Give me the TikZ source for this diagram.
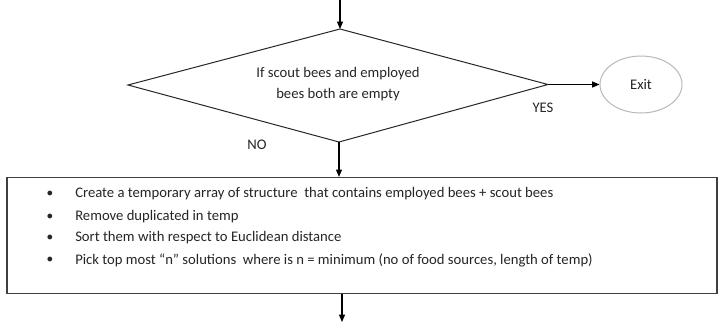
\documentclass[tikz,border=0pt]{standalone}
\usepackage{fontspec}
\setmainfont{Carlito}
\usetikzlibrary{shapes.geometric,arrows.meta}
\begin{document}
\begin{tikzpicture}[x=0.75pt,y=-0.75pt,
  every node/.style={font=\fontsize{11}{16}\selectfont, text=black!85},
  conn/.style={draw=black, line width=0.8pt, -{Triangle[length=5.5pt,width=4.5pt]}},
  dline/.style={draw=black!85, line width=0.75pt},
  terminal/.style={ellipse, draw=black!28, line width=0.75pt, minimum width=82*0.75pt, minimum height=57*0.75pt, inner sep=0pt},
  procbox/.style={draw=black!75, line width=1pt, fill=white},
  lbl/.style={inner sep=0pt},
  bullet/.style={inner sep=0pt, font=\fontsize{9}{9}\selectfont}
]
\useasboundingbox (0,0) rectangle (719,326);
\coordinate (start) at (340,0);
\coordinate (dN) at (340,29);
\coordinate (dW) at (128,85);
\coordinate (dE) at (548,84.5);
\coordinate (dS) at (339,142);
\draw[dline] (dN) -- (dE) -- (dS) -- (dW) -- cycle;
\node[align=center, inner sep=0pt] (dec) at (338,84) {If scout bees and employed\\bees both are empty};
\node[terminal] (exit) at (641,84.5) {Exit};
\node[procbox, minimum width=710*0.75pt, minimum height=116*0.75pt, inner sep=0pt] (box) at (362,235.5) {};
\coordinate (endpt) at (342,322);
\draw[conn] (start) -- (dN);
\draw[conn] (dE) -- (exit.west);
\draw[conn] (dS) -- (dS |- box.north);
\draw[conn] (box.south -| endpt) -- (endpt);
\node[lbl] (yes) at (543,108) {YES};
\node[lbl] (no) at (257,145) {NO};
\node[bullet] (b1) at (50,194) {$\bullet$};
\node[bullet] (b2) at (50,216.5) {$\bullet$};
\node[bullet] (b3) at (50,238) {$\bullet$};
\node[bullet] (b4) at (50,260) {$\bullet$};
\node[lbl, anchor=west] (t1) at (75,194) {Create a temporary array of structure \ that contains employed bees + scout bees};
\node[lbl, anchor=west] (t2) at (75,216.5) {Remove duplicated in temp};
\node[lbl, anchor=west] (t3) at (75,238) {Sort them with respect to Euclidean distance};
\node[lbl, anchor=west] (t4) at (75,260) {Pick top most “n” solutions \ where is n = minimum (no of food sources, length of temp)};
\end{tikzpicture}
\end{document}
